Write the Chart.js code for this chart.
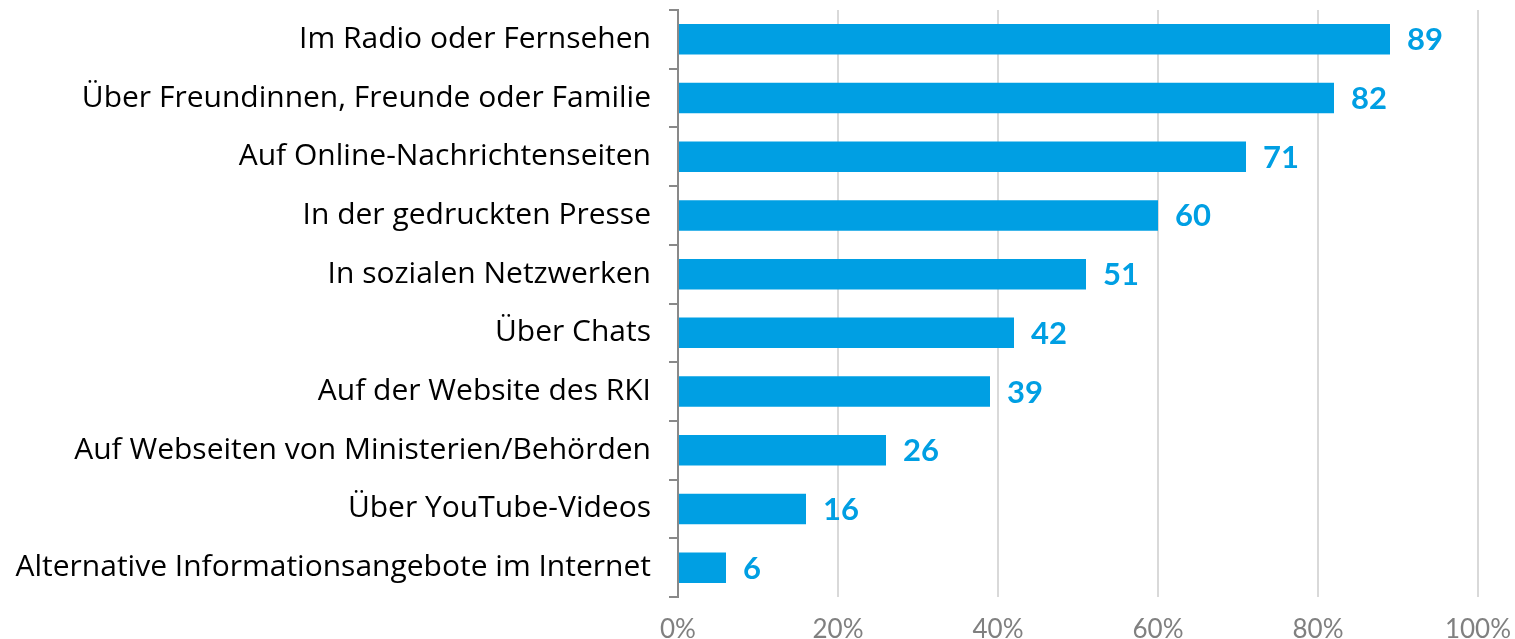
<!DOCTYPE html>
<html>
<head>
<meta charset="utf-8">
<script src="https://cdn.jsdelivr.net/npm/chart.js@4"></script>
<style>
  html, body { margin: 0; padding: 0; background: #fff; }
  #wrap { width: 1515px; height: 639px; }
</style>
</head>
<body>
<div id="wrap"><canvas id="chart"></canvas></div>
<script>
  const categories = [
    "Im Radio oder Fernsehen",
    "Über Freundinnen, Freunde oder Familie",
    "Auf Online-Nachrichtenseiten",
    "In der gedruckten Presse",
    "In sozialen Netzwerken",
    "Über Chats",
    "Auf der Website des RKI",
    "Auf Webseiten von Ministerien/Behörden",
    "Über YouTube-Videos",
    "Alternative Informationsangebote im Internet"
  ];
  const values = [89, 82, 71, 60, 51, 42, 39, 26, 16, 6];
  const xTicks = [0, 20, 40, 60, 80, 100];

  const blue = "#009fe3";
  const fontFamily = "Lato, 'Open Sans', sans-serif";

  // value labels at bar ends
  const barLabels = {
    id: "barLabels",
    afterDatasetsDraw(chart) {
      const ctx = chart.ctx;
      const meta = chart.getDatasetMeta(0);
      ctx.save();
      ctx.fillStyle = blue;
      ctx.font = "bold 31px " + fontFamily;
      ctx.textAlign = "left";
      ctx.textBaseline = "middle";
      meta.data.forEach((bar, i) => {
        ctx.fillText(String(values[i]), bar.x + 17, bar.y + 1);
      });
      ctx.restore();
    }
  };

  new Chart(document.getElementById("chart"), {
    type: "bar",
    data: {
      labels: categories,
      datasets: [{
        data: values,
        backgroundColor: blue,
        barPercentage: 0.52,
        categoryPercentage: 1
      }]
    },
    options: {
      indexAxis: "y",
      responsive: true,
      maintainAspectRatio: false,
      animation: false,
      layout: { padding: { top: 10, right: 37, left: 0, bottom: 0 } },
      plugins: {
        legend: { display: false },
        tooltip: { enabled: false }
      },
      scales: {
        x: {
          min: 0,
          max: 100,
          afterBuildTicks(scale) {
            scale.ticks = xTicks.map(v => ({ value: v }));
          },
          afterFit(scale) { scale.height = 42; scale.paddingLeft = 0; scale.paddingRight = 0; },
          grid: { color: "#d9d9d9", lineWidth: 2, drawTicks: false },
          border: { display: false },
          ticks: {
            color: "#808080",
            font: { family: fontFamily, size: 26 },
            padding: 17,
            callback: v => v + "%"
          }
        },
        y: {
          afterFit(scale) { scale.width = 678; scale.paddingTop = 0; scale.paddingBottom = 0; },
          grid: {
            drawOnChartArea: false,
            drawTicks: true,
            tickLength: 9,
            color: "#898989",
            lineWidth: 2
          },
          border: { display: true, color: "#898989", width: 2 },
          ticks: {
            color: "#000",
            font: { family: "'Open Sans', sans-serif", size: 30 },
            padding: 18
          }
        }
      }
    },
    plugins: [barLabels]
  });
</script>
</body>
</html>
